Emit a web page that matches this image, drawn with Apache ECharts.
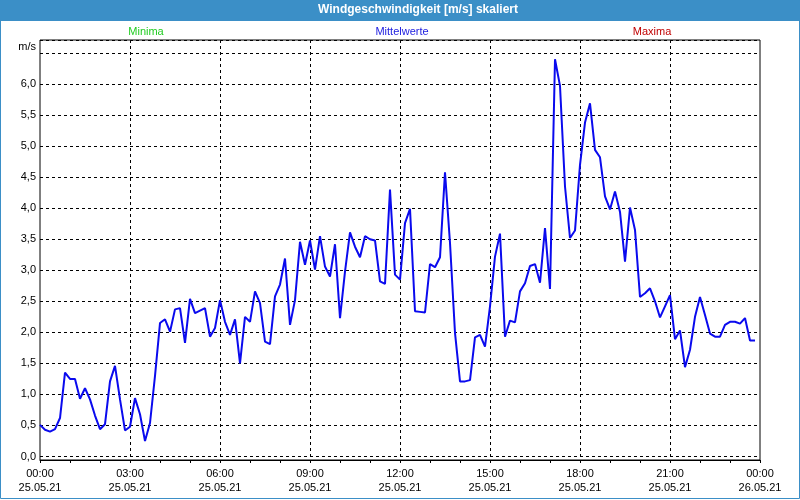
<!DOCTYPE html>
<html>
<head>
<meta charset="utf-8">
<title>Windgeschwindigkeit</title>
<script src="https://cdn.jsdelivr.net/npm/echarts@6.0.0/dist/echarts.min.js"></script>
<style>
  html, body { margin: 0; padding: 0; background: #fff; }
  #chart { width: 800px; height: 500px; }
</style>
</head>
<body>
<div id="chart"></div>
<script>
// Mittelwerte, ein Wert alle 10 Minuten ab 25.05.21 00:00
const stepMinutes = 10
const windSpeed = [
  0.51, 0.43, 0.40, 0.44, 0.62, 1.35, 1.25, 1.25, 0.93, 1.10, 0.92, 0.66,
  0.44, 0.52, 1.21, 1.46, 0.92, 0.42, 0.48, 0.94, 0.68, 0.25, 0.54, 1.30,
  2.15, 2.21, 2.01, 2.37, 2.39, 1.83, 2.54, 2.31, 2.35, 2.39, 1.93, 2.07,
  2.52, 2.17, 1.96, 2.21, 1.50, 2.25, 2.17, 2.66, 2.47, 1.85, 1.81, 2.58,
  2.77, 3.19, 2.12, 2.52, 3.46, 3.09, 3.48, 3.01, 3.55, 3.06, 2.90, 3.42,
  2.23, 2.98, 3.61, 3.38, 3.21, 3.55, 3.50, 3.48, 2.82, 2.78, 4.30, 2.93,
  2.85, 3.76, 3.99, 2.34, 2.33, 2.32, 3.10, 3.05, 3.21, 4.58, 3.44, 1.99,
  1.21, 1.21, 1.23, 1.92, 1.96, 1.77, 2.42, 3.22, 3.59, 1.93, 2.19, 2.16,
  2.66, 2.79, 3.07, 3.10, 2.80, 3.68, 2.70, 6.40, 5.97, 4.35, 3.52, 3.64,
  4.70, 5.38, 5.69, 4.94, 4.82, 4.19, 3.98, 4.27, 3.94, 3.14, 4.01, 3.65,
  2.57, 2.63, 2.71, 2.50, 2.24, 2.42, 2.60, 1.89, 2.03, 1.44, 1.72, 2.25,
  2.57, 2.28, 1.98, 1.93, 1.93, 2.12, 2.17, 2.17, 2.14, 2.23, 1.87, 1.87
]
const timeLabels = ['00:00', '03:00', '06:00', '09:00', '12:00', '15:00', '18:00', '21:00', '00:00']
const dateLabels = ['25.05.21', '25.05.21', '25.05.21', '25.05.21', '25.05.21', '25.05.21', '25.05.21', '25.05.21', '26.05.21']
const legendLabels = ['Minima', 'Mittelwerte', 'Maxima']

const FONT = '"Liberation Sans", Arial, sans-serif'
const BAR_BLUE = '#3b8fc7'

const chart = echarts.init(document.getElementById('chart'))

chart.setOption({
  backgroundColor: '#ffffff',
  animation: false,
  title: [
    {
      text: 'Windgeschwindigkeit [m/s] skaliert',
      left: 418, top: 4, padding: 0, textAlign: 'center',
      textStyle: { color: '#fff', fontSize: 12, fontWeight: 'bold', fontFamily: FONT }
    },
    {
      text: legendLabels[0], left: 146, top: 26, padding: 0, textAlign: 'center',
      textStyle: { color: '#22cc22', fontSize: 11, fontWeight: 'normal', fontFamily: FONT }
    },
    {
      text: legendLabels[1], left: 402, top: 26, padding: 0, textAlign: 'center',
      textStyle: { color: '#2020e0', fontSize: 11, fontWeight: 'normal', fontFamily: FONT }
    },
    {
      text: legendLabels[2], left: 652, top: 26, padding: 0, textAlign: 'center',
      textStyle: { color: '#c00000', fontSize: 11, fontWeight: 'normal', fontFamily: FONT }
    },
    {
      text: 'm/s', left: 36, top: 41, padding: 0, textAlign: 'right',
      textStyle: { color: '#000', fontSize: 11, fontWeight: 'normal', fontFamily: FONT }
    }
  ],
  graphic: [
    { type: 'rect', shape: { x: 0, y: 0, width: 800, height: 21 }, style: { fill: BAR_BLUE } },
    { type: 'rect', shape: { x: 0.5, y: 0.5, width: 799, height: 498 }, style: { fill: null, stroke: BAR_BLUE, lineWidth: 1 } }
  ],
  grid: [
    // Rahmen + Zeitachse
    { left: 40, right: 40, top: 40, bottom: 40, show: true, borderColor: '#000', borderWidth: 1, backgroundColor: 'transparent' },
    // Datenbereich (0,0 liegt etwas ueber der Zeitachse)
    { left: 40, right: 40, top: 40, bottom: 43.5 }
  ],
  xAxis: [
    {
      gridIndex: 0,
      type: 'value',
      min: 0,
      max: 1440,
      interval: 180,
      axisLine: { show: true, lineStyle: { color: '#000' } },
      axisTick: { show: true, length: 3, lineStyle: { color: '#000' } },
      minorTick: { show: true, splitNumber: 3, length: 3, lineStyle: { color: '#000' } },
      splitLine: { show: true, showMinLine: false, showMaxLine: false, lineStyle: { color: '#000', type: [3, 3] } },
      axisLabel: {
        margin: 7,
        color: '#000',
        fontSize: 11,
        fontFamily: FONT,
        lineHeight: 14,
        formatter: function (v) {
          const i = Math.round(v / 180)
          return timeLabels[i] + '\n' + dateLabels[i]
        }
      }
    },
    { gridIndex: 1, type: 'value', min: 0, max: 1440, show: false }
  ],
  yAxis: [
    { gridIndex: 0, type: 'value', min: 0, max: 1, show: false },
    {
      gridIndex: 1,
      type: 'value',
      min: 0,
      max: 6.71,
      interval: 0.5,
      axisLine: { show: false },
      axisTick: { show: false },
      splitLine: { show: true, lineStyle: { color: '#000', type: [3, 3] } },
      axisLabel: {
        margin: 4,
        color: '#000',
        fontSize: 11,
        fontFamily: FONT,
        formatter: function (v) {
          if (v > 6.01) return ''
          return v.toFixed(1).replace('.', ',')
        }
      }
    }
  ],
  series: [
    {
      name: legendLabels[1],
      type: 'line',
      xAxisIndex: 1,
      yAxisIndex: 1,
      symbol: 'none',
      lineStyle: { color: '#0a0aee', width: 2 },
      data: windSpeed.map(function (v, i) { return [i * stepMinutes, v] })
    }
  ]
})
</script>
</body>
</html>
